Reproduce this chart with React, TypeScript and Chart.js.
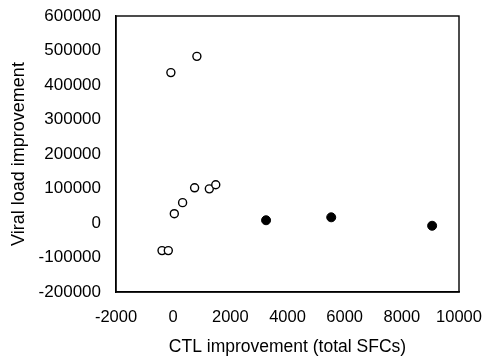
import React, { useEffect, useRef } from "react";
import { Chart, registerables } from "chart.js";

Chart.register(...registerables);

// Open circles
const openX = [-80, 830, 750, 1265, 1490, 330, 40, -390, -170];
const openY = [436000, 483000, 102000, 99000, 111000, 59000, 27000, -80000, -80000];
// Filled circles
const filledX = [3250, 5530, 9060];
const filledY = [8000, 16500, -8000];

const xTicks = [-2000, 0, 2000, 4000, 6000, 8000, 10000];
const yTicks = [-200000, -100000, 0, 100000, 200000, 300000, 400000, 500000, 600000];

const xTitle = "CTL improvement (total SFCs)";
const yTitle = "Viral load improvement";

const FONT = "'Liberation Sans', Arial, sans-serif";

const boxPlugin = {
  id: "boxPlugin",
  afterDraw(chart: any) {
    const { ctx, chartArea } = chart;
    ctx.save();
    ctx.strokeStyle = "#000";
    ctx.lineWidth = 1.4;
    ctx.strokeRect(chartArea.left, chartArea.top, chartArea.right - chartArea.left, chartArea.bottom - chartArea.top);
    ctx.restore();
  },
};

const zeroPad = (s: any) => {
  s.paddingTop = 0;
  s.paddingBottom = 0;
  s.paddingLeft = 0;
  s.paddingRight = 0;
};

export default function App() {
  const ref = useRef<HTMLCanvasElement | null>(null);

  useEffect(() => {
    if (!ref.current) return;
    const chart = new Chart(ref.current, {
      type: "scatter",
      data: {
        datasets: [
          {
            label: "open",
            data: openX.map((x, i) => ({ x, y: openY[i] })),
            pointStyle: "circle",
            pointRadius: 4,
            pointBackgroundColor: "#fff",
            pointBorderColor: "#000",
            pointBorderWidth: 1.4,
          },
          {
            label: "filled",
            data: filledX.map((x, i) => ({ x, y: filledY[i] })),
            pointStyle: "circle",
            pointRadius: 4.5,
            pointBackgroundColor: "#000",
            pointBorderColor: "#000",
            pointBorderWidth: 1,
          },
        ],
      },
      options: {
        animation: false,
        responsive: false,
        maintainAspectRatio: false,
        layout: { padding: { left: 0, top: 16, right: 26, bottom: 0 } },
        plugins: { legend: { display: false }, tooltip: { enabled: false } },
        scales: {
          x: {
            type: "linear",
            min: xTicks[0],
            max: xTicks[xTicks.length - 1],
            afterBuildTicks: (s: any) => {
              s.ticks = xTicks.map((v) => ({ value: v }));
            },
            afterFit: (s: any) => {
              s.height = 68;
              zeroPad(s);
            },
            grid: { display: false, drawTicks: false },
            border: { display: true, color: "#000", width: 1.4 },
            ticks: {
              padding: 16,
              color: "#000",
              font: { family: FONT, size: 16.5 },
              callback: (v: any) => String(v),
              maxRotation: 0,
              autoSkip: false,
            },
            title: {
              display: true,
              text: xTitle,
              color: "#000",
              font: { family: FONT, size: 17.5 },
              padding: { top: 0, bottom: 2 },
            },
          },
          y: {
            type: "linear",
            min: yTicks[0],
            max: yTicks[yTicks.length - 1],
            afterBuildTicks: (s: any) => {
              s.ticks = yTicks.map((v) => ({ value: v }));
            },
            afterFit: (s: any) => {
              s.width = 116;
              zeroPad(s);
            },
            grid: { display: false, drawTicks: false },
            border: { display: true, color: "#000", width: 1.4 },
            ticks: {
              padding: 15,
              color: "#000",
              font: { family: FONT, size: 17 },
              callback: (v: any) => String(v),
              autoSkip: false,
            },
            title: {
              display: true,
              text: yTitle,
              color: "#000",
              font: { family: FONT, size: 18 },
              padding: { top: 8, bottom: 0 },
            },
          },
        },
      },
      plugins: [boxPlugin],
    } as any);
    return () => chart.destroy();
  }, []);

  return (
    <div style={{ position: "fixed", left: 0, top: 0, width: 485, height: 360, background: "#fff" }}>
      <canvas ref={ref} width={485} height={360} style={{ width: 485, height: 360, display: "block" }} />
    </div>
  );
}
